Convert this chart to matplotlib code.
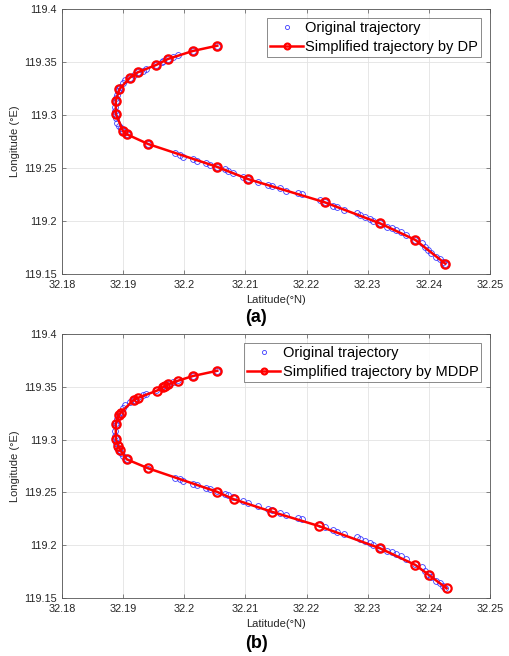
import numpy as np
import matplotlib
matplotlib.use("Agg")
import matplotlib.pyplot as plt

# original trajectory, same in both panels
orig_lat = [32.2054, 32.2014, 32.1990, 32.1982, 32.1973, 32.1966, 32.1963, 32.1954,
            32.1938, 32.1933, 32.1924, 32.1917, 32.1911, 32.1903, 32.1899, 32.1895,
            32.1894, 32.1892, 32.1890, 32.1889, 32.1888, 32.1887, 32.1887, 32.1888,
            32.1889, 32.1890, 32.1893, 32.1896, 32.1900, 32.1906, 32.1941, 32.1985,
            32.1993, 32.1998, 32.2015, 32.2020, 32.2036, 32.2042, 32.2053, 32.2066,
            32.2072, 32.2080, 32.2096, 32.2104, 32.2121, 32.2137, 32.2143, 32.2156,
            32.2167, 32.2186, 32.2192, 32.2222, 32.2230, 32.2243, 32.2249, 32.2262,
            32.2282, 32.2287, 32.2295, 32.2303, 32.2309, 32.2320, 32.2331, 32.2339,
            32.2347, 32.2355, 32.2363, 32.2378, 32.2388, 32.2393, 32.2399, 32.2404,
            32.2412, 32.2418, 32.2423, 32.2427]
orig_lon = [119.3654, 119.3604, 119.3566, 119.3550, 119.3528, 119.3512, 119.3503, 119.3472,
            119.3434, 119.3418, 119.3403, 119.3377, 119.3352, 119.3330, 119.3299, 119.3261,
            119.3245, 119.3226, 119.3192, 119.3160, 119.3135, 119.3078, 119.3038, 119.3012,
            119.2969, 119.2922, 119.2899, 119.2875, 119.2846, 119.2818, 119.2726, 119.2639,
            119.2623, 119.2607, 119.2582, 119.2566, 119.2544, 119.2528, 119.2512, 119.2488,
            119.2472, 119.2456, 119.2418, 119.2396, 119.2371, 119.2340, 119.2330, 119.2308,
            119.2286, 119.2261, 119.2252, 119.2198, 119.2176, 119.2144, 119.2129, 119.2104,
            119.2073, 119.2057, 119.2041, 119.2019, 119.2000, 119.1978, 119.1946, 119.1931,
            119.1915, 119.1893, 119.1868, 119.1821, 119.1790, 119.1758, 119.1726, 119.1695,
            119.1663, 119.1642, 119.1616, 119.1597]

# (a) DP simplification
dp_lat = [32.2054, 32.2014, 32.1973, 32.1954, 32.1924, 32.1911, 32.1894, 32.1888, 32.1888,
          32.1900, 32.1906, 32.1941, 32.2053, 32.2104, 32.2230, 32.2320, 32.2378, 32.2427]
dp_lon = [119.3654, 119.3604, 119.3528, 119.3472, 119.3403, 119.3352, 119.3245, 119.3135,
          119.3012, 119.2846, 119.2818, 119.2726, 119.2512, 119.2396, 119.2176, 119.1978,
          119.1821, 119.1597]

# (b) MDDP simplification
mddp_lat = [32.2054, 32.2014, 32.1990, 32.1974, 32.1968, 32.1965, 32.1955, 32.1925, 32.1917,
            32.1896, 32.1893, 32.1888, 32.1888, 32.1892, 32.1895, 32.1906, 32.1941, 32.2053,
            32.2081, 32.2143, 32.2220, 32.2320, 32.2378, 32.2400, 32.2429]
mddp_lon = [119.3652, 119.3602, 119.3558, 119.3524, 119.3508, 119.3495, 119.3463, 119.3397,
            119.3375, 119.3255, 119.3233, 119.3145, 119.3009, 119.2939, 119.2902, 119.2813,
            119.2728, 119.2507, 119.2435, 119.2317, 119.2182, 119.1971, 119.1813, 119.1718,
            119.1592]

xticks = [32.18, 32.19, 32.2, 32.21, 32.22, 32.23, 32.24, 32.25]
yticks = [119.15, 119.2, 119.25, 119.3, 119.35, 119.4]

plt.rcParams.update({
    "font.family": ["Liberation Sans", "DejaVu Sans"],
    "xtick.direction": "in", "ytick.direction": "in",
    "xtick.top": True, "ytick.right": True,
    "xtick.major.size": 3, "ytick.major.size": 3,
    "xtick.major.width": 0.5, "ytick.major.width": 0.5,
    "xtick.color": "#555555", "ytick.color": "#555555",
    "xtick.labelcolor": "#262626", "ytick.labelcolor": "#262626",
    "axes.edgecolor": "#555555", "axes.linewidth": 0.6,
})

fig = plt.figure(figsize=(5.09, 6.56), dpi=100)
W, H = 509, 656
panels = [
    ([62 / W, 1 - 274 / H, 428 / W, 265 / H], dp_lat, dp_lon,
     "Simplified trajectory by DP", "(a)", 1 - 318 / H),
    ([62 / W, 1 - 598 / H, 428 / W, 264 / H], mddp_lat, mddp_lon,
     "Simplified trajectory by MDDP", "(b)", 1 - 644 / H),
]

for rect, slat, slon, lab, tag, ty in panels:
    ax = fig.add_axes(rect)
    ax.plot(orig_lat, orig_lon, ls="none", marker="o", ms=4.2, mfc="none",
            mec="#3a3aff", mew=0.6, label="Original trajectory", zorder=2)
    ax.plot(slat, slon, color="red", lw=1.8, marker="o", ms=6, mfc="none",
            mec="red", mew=1.6, label=lab, zorder=3)
    ax.set_xlim(32.18, 32.25)
    ax.set_ylim(119.15, 119.4)
    ax.set_xticks(xticks)
    ax.set_xticklabels([f"{v:g}" for v in xticks])
    ax.set_yticks(yticks)
    ax.set_yticklabels([f"{v:g}" for v in yticks])
    ax.tick_params(labelsize=7.8, pad=4)
    ax.grid(True, color="#e3e3e3", lw=0.6)
    ax.set_axisbelow(True)
    ax.set_xlabel("Latitude(°N)", fontsize=8, color="#262626", labelpad=4)
    ax.set_ylabel("Longitude (°E)", fontsize=8, color="#262626", labelpad=3)
    leg = ax.legend(loc="upper right", fontsize=10.5, frameon=True, fancybox=False,
                    borderpad=0.2, labelspacing=0.35, handlelength=2.3,
                    handletextpad=0.15, borderaxespad=0.6, markerscale=0.7)
    leg.get_frame().set_edgecolor("#555555")
    leg.get_frame().set_linewidth(0.6)
    fig.text(0.503, ty, tag, ha="center", va="center", fontsize=13, fontweight="bold")

fig.savefig("out.png", dpi=100)
